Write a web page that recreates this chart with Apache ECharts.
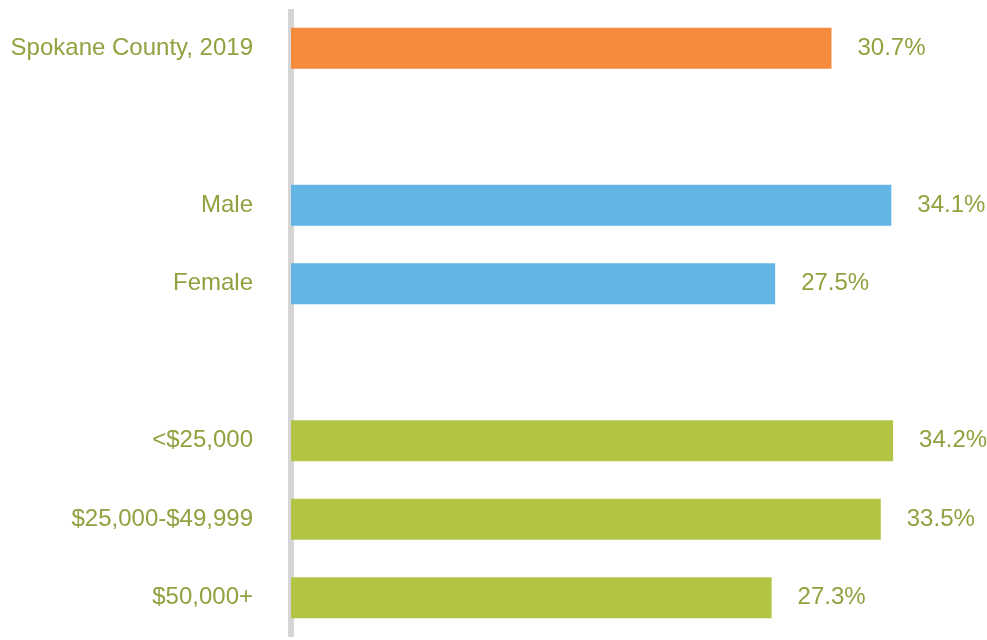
<!DOCTYPE html>
<html>
<head>
<meta charset="utf-8">
<script src="https://cdn.jsdelivr.net/npm/echarts@6/dist/echarts.min.js"></script>
<style>
  html, body { margin: 0; padding: 0; background: #fff; }
  #chart { width: 987px; height: 640px; }
</style>
</head>
<body>
<div id="chart"></div>
<script>
// categories top to bottom, '' = spacer rows between groups
const categories = ['Spokane County, 2019', '', 'Male', 'Female', '', '<$25,000', '$25,000-$49,999', '$50,000+']
const values = [30.7, null, 34.1, 27.5, null, 34.2, 33.5, 27.3]
const barColors = ['#f68b3d', null, '#63b5e5', '#63b5e5', null, '#b3c444', '#b3c444', '#b3c444']

const textColor = '#8fa23f'
const font = "'Liberation Sans', Arial, sans-serif"

const chart = echarts.init(document.getElementById('chart'))

chart.setOption({
  animation: false,
  grid: {
    left: 291,
    right: 27,
    top: 9,
    bottom: 3,
    containLabel: false,
  },
  xAxis: {
    type: 'value',
    min: 0,
    max: 38,
    show: false,
  },
  yAxis: {
    type: 'category',
    data: categories,
    inverse: true,
    offset: 3,
    axisTick: { show: false },
    axisLine: {
      show: true,
      lineStyle: { color: '#d5d5d6', width: 6, cap: 'butt' },
    },
    axisLabel: {
      color: textColor,
      fontSize: 24,
      fontFamily: font,
      margin: 35,
    },
  },
  series: [
    {
      type: 'bar',
      barWidth: 41,
      data: values.map((v, i) => (v === null ? '-' : { value: v, itemStyle: { color: barColors[i] } })),
      label: {
        show: true,
        position: 'right',
        distance: 26,
        color: textColor,
        fontSize: 24,
        fontFamily: font,
        formatter: p => p.value.toFixed(1) + '%',
      },
    },
  ],
})
</script>
</body>
</html>
